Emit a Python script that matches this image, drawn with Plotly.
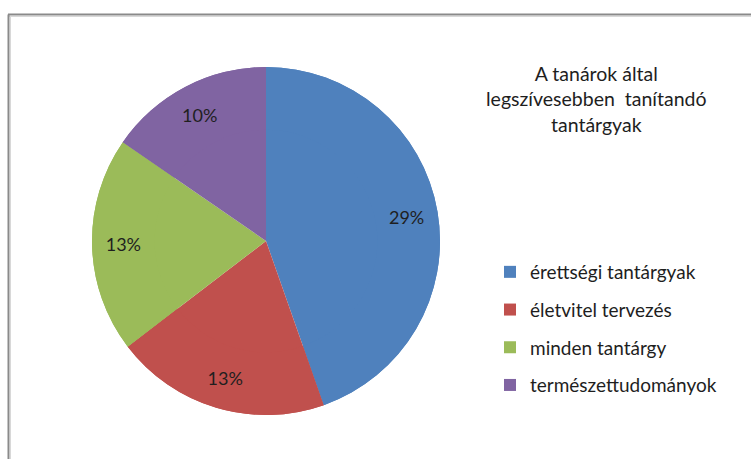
import plotly.graph_objects as go

labels = ["érettségi tantárgyak", "életvitel tervezés", "minden tantárgy", "természettudományok"]
values = [29, 13, 13, 10]
colors = ["#4F81BD", "#C0504D", "#9BBB59", "#8064A2"]
title_lines = ["A tanárok által", "legszívesebben  tanítandó", "tantárgyak"]

W, H = 751, 459
font_family = "Lato, 'Open Sans', sans-serif"
pie_domain = dict(x=[92 / W, 440 / W], y=[1 - 415 / H, 1 - 67 / H])

fig = go.Figure()
# full pie (fills the centre)
fig.add_trace(go.Pie(
    labels=labels, values=values, sort=False, direction="clockwise", rotation=0,
    marker=dict(colors=colors, line=dict(width=0)),
    textinfo="none", showlegend=False, domain=pie_domain,
    hoverinfo="label+value",
))
# ring on top carrying the value labels near the rim
fig.add_trace(go.Pie(
    labels=labels, values=values, sort=False, direction="clockwise", rotation=0,
    hole=0.64,
    marker=dict(colors=colors, line=dict(width=0)),
    texttemplate="%{value}%",
    textposition="inside",
    insidetextorientation="horizontal",
    textfont=dict(family=font_family, size=18, color="#1f1f1f"),
    showlegend=False, domain=pie_domain,
    hoverinfo="label+value",
))

# legend entries (one group per category for row spacing)
for lab, col in zip(labels, colors):
    fig.add_trace(go.Scatter(
        x=[None], y=[None], mode="markers", name=lab,
        marker=dict(symbol="square", size=12, color=col),
        legendgroup=lab, showlegend=True, hoverinfo="skip",
    ))

fig.add_annotation(
    text="<br>".join(title_lines),
    x=596 / W, y=1 - 60 / H, xref="paper", yref="paper",
    xanchor="center", yanchor="top", showarrow=False,
    font=dict(family=font_family, size=19.5, color="#1e1e1e"),
    align="center",
)

# frame
fig.add_shape(type="line", xref="paper", yref="paper",
              x0=8 / W, x1=1, y0=1 - 14.5 / H, y1=1 - 14.5 / H,
              line=dict(color="#8a8a8a", width=2))
fig.add_shape(type="line", xref="paper", yref="paper",
              x0=9 / W, x1=1, y0=1 - 16.5 / H, y1=1 - 16.5 / H,
              line=dict(color="#d8d8d8", width=1))
fig.add_shape(type="line", xref="paper", yref="paper",
              x0=8.5 / W, x1=8.5 / W, y0=0, y1=1 - 14.5 / H,
              line=dict(color="#8a8a8a", width=2))
fig.add_shape(type="line", xref="paper", yref="paper",
              x0=10.5 / W, x1=10.5 / W, y0=0, y1=1 - 16 / H,
              line=dict(color="#d8d8d8", width=1))

fig.update_layout(
    width=W, height=H,
    margin=dict(l=0, r=0, t=0, b=0),
    paper_bgcolor="white", plot_bgcolor="white",
    xaxis=dict(visible=False), yaxis=dict(visible=False),
    showlegend=True,
    legend=dict(
        x=490 / W, y=1 - 253 / H, xanchor="left", yanchor="top",
        font=dict(family=font_family, size=19, color="#1e1e1e"),
        itemwidth=30, tracegroupgap=10, traceorder="grouped",
        bgcolor="rgba(0,0,0,0)",
    ),
)

fig.write_html("out.html", config={"displayModeBar": False},
               post_script="document.body.style.margin='0px';")
